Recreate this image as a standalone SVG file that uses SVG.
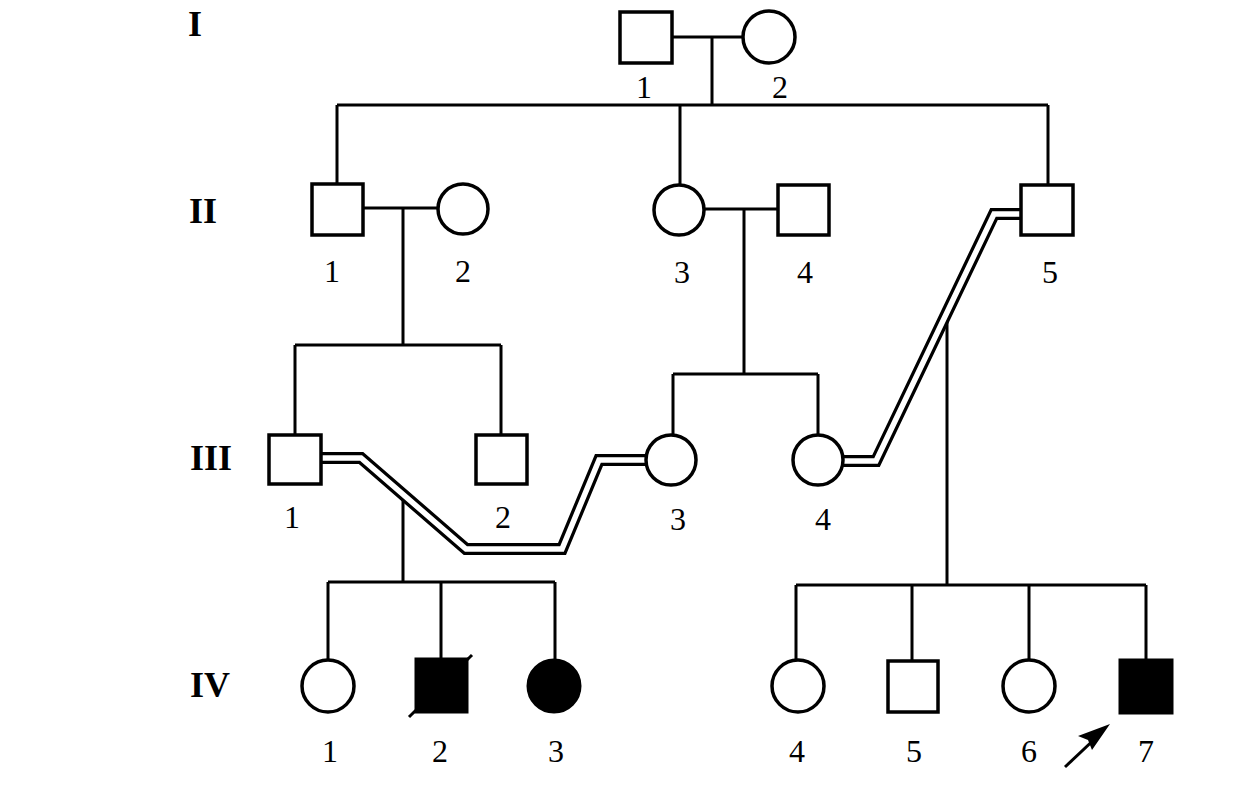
<svg xmlns="http://www.w3.org/2000/svg" width="1259" height="787" viewBox="0 0 1259 787">
<style>
.ln{fill:none;stroke:#000;stroke-width:3;stroke-linejoin:miter}
.sh{fill:#fff;stroke:#000;stroke-width:3.5}
.af{fill:#000;stroke:#000;stroke-width:3}
.dbo{fill:none;stroke:#000;stroke-width:12;stroke-linejoin:miter}
.dbi{fill:none;stroke:#fff;stroke-width:5.5;stroke-linejoin:miter}
.num{font-family:"Liberation Serif","Times New Roman",serif;font-size:32px;fill:#000;text-anchor:middle}
.gen{font-family:"Liberation Serif","Times New Roman",serif;font-size:36px;font-weight:bold;fill:#000}
</style>
<rect width="1259" height="787" fill="#fff"/>
<g id="generations">
<text class="gen" x="188" y="36">I</text>
<text class="gen" x="189" y="223">II</text>
<text class="gen" x="190" y="470">III</text>
<text class="gen" x="190" y="697">IV</text>
</g>
<g id="connectors">
<path class="ln" d="M672 37H744M712 37V105M337 105H1048M337 105V184M680 105V185M1048 105V185"/>
<path class="ln" d="M363 208H438M403 208V345M295 345H501M295 345V435M501 345V435"/>
<path class="ln" d="M704 209H778M744 209V374M673 374H818M673 374V435M818 374V435"/>
<path class="ln" d="M403 495V582M328 582H555M328 582V660M441 582V659M555 582V660"/>
<path class="ln" d="M947 316V585M796 585H1146M796 585V660M912 585V661M1029 585V660M1146 585V660"/>
<path class="dbo" d="M321 458H361L466 549H562L599 460H647"/>
<path class="dbi" d="M318 458H361L466 549H562L599 460H650"/>
<path class="dbo" d="M843 461H876L994 214H1021"/>
<path class="dbi" d="M840 461H876L994 214H1024"/>
</g>
<g id="I-1"><rect class="sh" x="620" y="12" width="52" height="51"/><text class="num" x="644" y="98">1</text></g>
<g id="I-2"><circle class="sh" cx="769" cy="37" r="26"/><text class="num" x="780" y="98">2</text></g>
<g id="II-1"><rect class="sh" x="312" y="184" width="51" height="51"/><text class="num" x="332" y="282">1</text></g>
<g id="II-2"><circle class="sh" cx="463" cy="209" r="25"/><text class="num" x="463" y="282">2</text></g>
<g id="II-3"><circle class="sh" cx="679" cy="210" r="25"/><text class="num" x="682" y="283">3</text></g>
<g id="II-4"><rect class="sh" x="778" y="185" width="51" height="50"/><text class="num" x="805" y="283">4</text></g>
<g id="II-5"><rect class="sh" x="1021" y="185" width="52" height="50"/><text class="num" x="1050" y="283">5</text></g>
<g id="III-1"><rect class="sh" x="269" y="435" width="52" height="49"/><text class="num" x="292" y="528">1</text></g>
<g id="III-2"><rect class="sh" x="476" y="435" width="51" height="49"/><text class="num" x="503" y="528">2</text></g>
<g id="III-3"><circle class="sh" cx="671" cy="460" r="25"/><text class="num" x="678" y="530">3</text></g>
<g id="III-4"><circle class="sh" cx="818" cy="460" r="25"/><text class="num" x="823" y="530">4</text></g>
<g id="IV-1"><circle class="sh" cx="328" cy="686" r="26"/><text class="num" x="330" y="762">1</text></g>
<g id="IV-2"><rect class="af" x="416" y="659" width="51" height="53"/><path class="ln" d="M409 717L472 655"/><text class="num" x="440" y="762">2</text></g>
<g id="IV-3"><circle class="af" cx="554" cy="686" r="26"/><text class="num" x="556" y="762">3</text></g>
<g id="IV-4"><circle class="sh" cx="798" cy="686" r="26"/><text class="num" x="797" y="762">4</text></g>
<g id="IV-5"><rect class="sh" x="888" y="661" width="50" height="51"/><text class="num" x="914" y="762">5</text></g>
<g id="IV-6"><circle class="sh" cx="1029" cy="686" r="26"/><text class="num" x="1029" y="762">6</text></g>
<g id="IV-7"><rect class="af" x="1120" y="660" width="52" height="53"/><text class="num" x="1146" y="762">7</text>
<path class="ln" d="M1065 767L1100 734"/><path fill="#000" d="M1110 724L1092 750L1088 740L1078 736Z"/></g>
</svg>
